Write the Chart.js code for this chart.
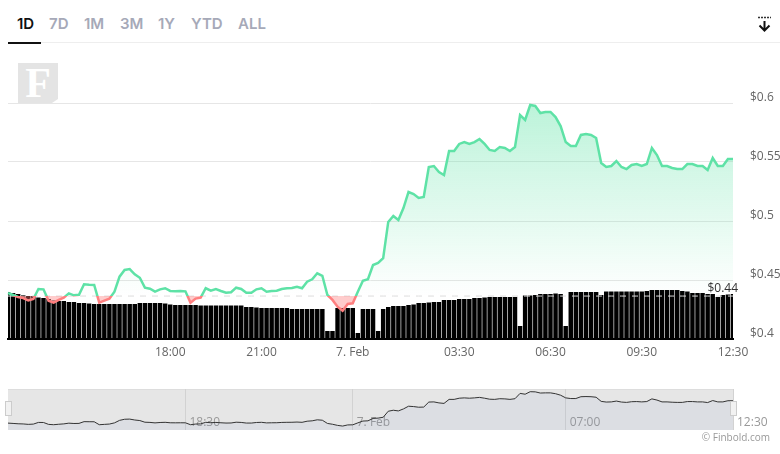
<!DOCTYPE html>
<html>
<head>
<meta charset="utf-8">
<script src="https://cdn.jsdelivr.net/npm/chart.js@4"></script>
<style>
  html, body { margin: 0; padding: 0; background: #fff; }
  body { width: 780px; height: 454px; position: relative; overflow: hidden; font-family: "Open Sans", sans-serif; }
  .tab { position: absolute; top: 14px; font: 600 15px Inter, sans-serif; line-height: 20px; color: #a6a9b8; }
  .tab.active { color: #111; }
  #divider { position: absolute; left: 8px; right: 0; top: 42px; height: 1px; background: #eee; }
  #underline { position: absolute; left: 8px; width: 33px; top: 42px; height: 2px; background: #111; }
  #logo { position: absolute; left: 18px; top: 63px; width: 40px; height: 40px; background: #e4e4e4; color: #fff;
          font: bold 42px/41px "Liberation Serif", serif; text-align: center;
          clip-path: polygon(0 0, 100% 0, 100% 90%, 85% 100%, 0 100%); }
  #mainChart { position: absolute; left: 0; top: 90px; }
  #navBack { position: absolute; left: 8px; top: 389px; width: 725px; height: 41px; background: #e6e6e6; border-top: 1px solid #ddd; box-sizing: border-box; }
  #navChart { position: absolute; left: 0; top: 385px; }
  .handle { position: absolute; top: 401px; width: 7px; height: 15px; background: #f2f2f2; border: 1px solid #ccc; box-sizing: border-box; }
  #credit { position: absolute; right: 10px; top: 430px; font-size: 10px; line-height: 14px; color: #999; }
  #download { position: absolute; left: 757px; top: 16px; }
</style>
</head>
<body>
<div class="tab active" style="left:17px">1D</div>
<div class="tab" style="left:49px">7D</div>
<div class="tab" style="left:84px">1M</div>
<div class="tab" style="left:120px">3M</div>
<div class="tab" style="left:158px">1Y</div>
<div class="tab" style="left:191px">YTD</div>
<div class="tab" style="left:238px">ALL</div>
<div id="divider"></div>
<div id="underline"></div>
<svg id="download" width="15" height="16" viewBox="0 0 15 16">
  <path d="M1 1.5H14" stroke="#333" stroke-width="1.5" stroke-dasharray="2 1"/>
  <path d="M7.5 5V14M2.5 9.5L7.5 14.5L12.5 9.5" stroke="#111" stroke-width="2" fill="none"/>
</svg>
<div id="logo">F</div>
<canvas id="mainChart" width="780" height="280"></canvas>
<div id="navBack"></div>
<canvas id="navChart" width="780" height="50"></canvas>
<div class="handle" style="left:5px"></div>
<div class="handle" style="left:730px"></div>
<div id="credit">© Finbold.com</div>

<script>
// price, every 10 minutes from 12:40 to 12:30 next day
const prices = [
  0.4390, 0.4373, 0.4356, 0.4347, 0.4326, 0.4339, 0.4424, 0.4421, 0.4325, 0.4308,
  0.4331, 0.4350, 0.4387, 0.4370, 0.4375, 0.4464, 0.4460, 0.4458, 0.4308, 0.4325,
  0.4342, 0.4401, 0.4528, 0.4585, 0.4593, 0.4548, 0.4519, 0.4435, 0.4426, 0.4401,
  0.4421, 0.4430, 0.4407, 0.4404, 0.4407, 0.4404, 0.4308, 0.4342, 0.4350, 0.4430,
  0.4409, 0.4424, 0.4407, 0.4392, 0.4396, 0.4435, 0.4424, 0.4392, 0.4392, 0.4421,
  0.4430, 0.4401, 0.4407, 0.4409, 0.4424, 0.4430, 0.4432, 0.4443, 0.4430, 0.4486,
  0.4506, 0.4557, 0.4536, 0.4373, 0.4331, 0.4274, 0.4240, 0.4297, 0.4303, 0.4401,
  0.4494, 0.4506, 0.4627, 0.4644, 0.4686, 0.4992, 0.5042, 0.5008, 0.5110, 0.5246,
  0.5229, 0.5195, 0.5203, 0.5458, 0.5466, 0.5415, 0.5389, 0.5593, 0.5593, 0.5653,
  0.5669, 0.5653, 0.5669, 0.5695, 0.5653, 0.5602, 0.5593, 0.5627, 0.5619, 0.5593,
  0.5627, 0.5898, 0.5856, 0.5983, 0.5975, 0.5915, 0.5924, 0.5924, 0.5881, 0.5805,
  0.5669, 0.5636, 0.5636, 0.5729, 0.5737, 0.5729, 0.5703, 0.5492, 0.5458, 0.5466,
  0.5508, 0.5458, 0.5440, 0.5475, 0.5483, 0.5466, 0.5483, 0.5619, 0.5559, 0.5466,
  0.5466, 0.5449, 0.5440, 0.5440, 0.5483, 0.5483, 0.5466, 0.5466, 0.5432, 0.5534,
  0.5466, 0.5466, 0.5525, 0.5525
];

// volume (relative units, the picture has no volume axis)
const volumes = [
  47, 46, 45, 44, 43, 43, 41.5, 41, 40, 38.5,
  38, 38, 37, 37, 36, 36, 35.5, 35, 35, 35,
  35, 35, 35, 35, 35, 35, 36, 36, 36, 36,
  36, 35.5, 34.5, 34, 34, 34, 34, 34, 33.5, 33.5,
  33.5, 33.5, 33.5, 33.5, 33.5, 33.5, 33.5, 32, 32, 31.5,
  31, 31, 31, 31, 31, 31, 30, 30, 30, 30,
  30, 30, 30, 8, 8, 31, 31, 31, 31, 6,
  30, 30, 30, 8, 30, 32, 33, 33, 33, 34,
  34.5, 36, 36, 36.5, 37, 37, 39, 39, 39, 40,
  40, 40, 41, 41, 41.5, 42, 42, 42, 42, 42,
  42, 13, 43.5, 43.5, 44, 45, 45, 45, 45.5, 45,
  13, 47, 47, 47, 47, 47, 47, 44, 47.5, 47.5,
  47.5, 47.5, 47.5, 47.5, 47.5, 47.5, 48, 49, 49, 49,
  49, 49, 49, 48, 47.5, 46, 46, 46, 45, 45,
  42, 44, 44.5, 45
];

const basePrice = 0.4364;
const lastLabel = '$0.44';

const priceTicks = [0.4, 0.45, 0.5, 0.55, 0.6];
const mainTickTimes = ['18:00', '21:00', '00:00', '03:30', '06:30', '09:30', '12:30'];
const navTickTimes = ['18:30', '00:00', '07:00', '12:30'];
const dayLabels = { '00:00': '7. Feb' };

// 10 min categories starting 12:40
const times = [];
for (let i = 0; i < prices.length; i++) {
    const m = (12 * 60 + 40 + i * 10) % 1440;
    times.push(String(Math.floor(m / 60)).padStart(2, '0') + ':' + String(m % 60).padStart(2, '0'));
}

function keepTicks(list) {
    return function (scale) {
        scale.ticks = scale.ticks.filter(t => list.includes(times[t.value]));
    };
}

function tickText(value) {
    const t = times[value];
    return dayLabels[t] || t;
}

// $0.44 tag over the last point
const lastLabelPlugin = {
    id: 'lastLabel',
    afterDatasetsDraw(chart) {
        const { ctx, scales } = chart;
        ctx.save();
        ctx.font = '12px "Open Sans"';
        ctx.fillStyle = '#333';
        ctx.textAlign = 'right';
        ctx.textBaseline = 'middle';
        ctx.fillText(lastLabel, scales.x.right + 5, scales.y.getPixelForValue(basePrice) - 7);
        ctx.restore();
    }
};

const mainCanvas = document.getElementById('mainChart');
const mainCtx = mainCanvas.getContext('2d');

// baseline sits at y=206 inside this canvas
const aboveFill = mainCtx.createLinearGradient(0, 13, 0, 206);
aboveFill.addColorStop(0, 'rgba(94,226,165,0.42)');
aboveFill.addColorStop(1, 'rgba(94,226,165,0)');

const lineColor = mainCtx.createLinearGradient(0, 0, 0, 280);
lineColor.addColorStop(0, '#5ee2a6');
lineColor.addColorStop(206 / 280, '#5ee2a6');
lineColor.addColorStop(206 / 280, '#ff7f7f');
lineColor.addColorStop(1, '#ff7f7f');

new Chart(mainCanvas, {
    data: {
        labels: times,
        datasets: [
            {
                type: 'line',
                data: prices,
                yAxisID: 'y',
                order: 1,
                borderColor: lineColor,
                borderWidth: 2.5,
                pointRadius: 0,
                tension: 0,
                fill: { target: { value: basePrice }, above: aboveFill, below: 'rgba(255,120,120,0.38)' }
            },
            {
                type: 'line',
                data: times.map(() => basePrice),
                yAxisID: 'y',
                order: 2,
                borderColor: '#dcdcdc',
                borderWidth: 1,
                borderDash: [6, 6],
                pointRadius: 0,
                fill: false
            },
            {
                type: 'bar',
                data: volumes,
                yAxisID: 'vol',
                order: 3,
                backgroundColor: '#000',
                barPercentage: 0.88,
                categoryPercentage: 1
            }
        ]
    },
    options: {
        responsive: false,
        animation: false,
        devicePixelRatio: 1,
        layout: { padding: { left: 8, top: 13, right: 0, bottom: 0 } },
        plugins: { legend: { display: false }, tooltip: { enabled: false } },
        scales: {
            x: {
                offset: false,
                grid: { display: false, drawTicks: false },
                border: { color: '#000', width: 2 },
                afterBuildTicks: keepTicks(mainTickTimes),
                afterFit(scale) { scale.height = 31; },
                ticks: {
                    autoSkip: false,
                    maxRotation: 0,
                    padding: 6,
                    color: '#666',
                    font: { family: 'Open Sans', size: 12 },
                    callback: tickText
                }
            },
            y: {
                position: 'right',
                min: 0.4,
                max: 0.6,
                afterBuildTicks(scale) { scale.ticks = priceTicks.map(v => ({ value: v })); },
                afterFit(scale) {
                    scale.width = 47;
                    // label overhang must not push the plot down
                    scale.paddingTop = 0;
                    scale.paddingBottom = 0;
                },
                grid: { color: '#e6e6e6', drawTicks: false },
                border: { display: false },
                ticks: {
                    padding: 17,
                    labelOffset: -5,
                    color: '#666',
                    font: { family: 'Open Sans', size: 12 },
                    callback: v => '$' + v
                }
            },
            vol: { display: false, min: 0, max: 236 }
        }
    },
    plugins: [lastLabelPlugin]
});

// navigator strip under the chart
new Chart(document.getElementById('navChart'), {
    data: {
        labels: times,
        datasets: [{
            type: 'line',
            data: prices,
            borderColor: '#333',
            borderWidth: 1,
            pointRadius: 0,
            fill: 'start',
            backgroundColor: 'rgba(102,133,194,0.08)'
        }]
    },
    options: {
        responsive: false,
        animation: false,
        devicePixelRatio: 1,
        layout: { padding: { left: 8, top: 4, right: 47, bottom: 0 } },
        plugins: { legend: { display: false }, tooltip: { enabled: false } },
        scales: {
            x: {
                offset: false,
                grid: { color: '#d2d2d2', drawTicks: false },
                border: { display: false },
                afterBuildTicks: keepTicks(navTickTimes),
                afterFit(scale) { scale.height = 5; },
                ticks: {
                    autoSkip: false,
                    maxRotation: 0,
                    align: 'start',
                    mirror: true, // labels sit inside the strip, mirror also stops the label clip
                    padding: 0,
                    labelOffset: 4,
                    color: '#999',
                    font: { family: 'Open Sans', size: 12 },
                    callback: tickText
                }
            },
            y: { display: false, min: 0.404, max: 0.612 }
        }
    }
});
</script>
</body>
</html>
